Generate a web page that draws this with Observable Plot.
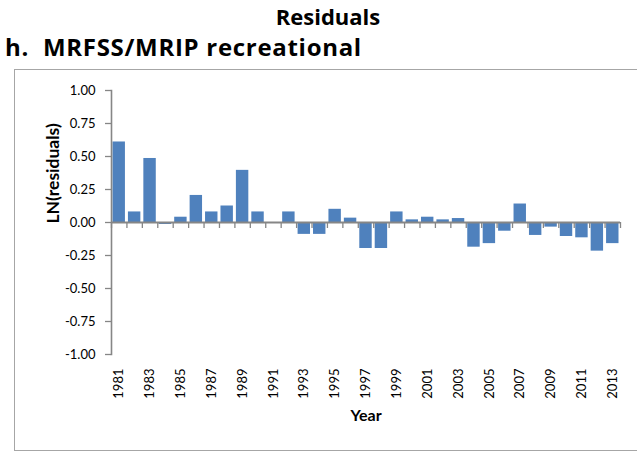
<!DOCTYPE html>
<html>
<head>
<meta charset="utf-8">
<script src="https://cdn.jsdelivr.net/npm/d3@7"></script>
<script src="https://cdn.jsdelivr.net/npm/@observablehq/plot@0.6"></script>
<style>
  html, body { margin: 0; padding: 0; background: #fff; }
  body { width: 637px; height: 452px; position: relative; overflow: hidden; font-family: Lato, "Open Sans", sans-serif; }
  #title { position: absolute; left: 0; top: 4px; width: 637px; padding-left: 19px; box-sizing: border-box; text-align: center; white-space: nowrap; font-family: "Open Sans", sans-serif; font-weight: bold; font-size: 22px; line-height: 24px; color: #000; }
  #subtitle { position: absolute; left: 5px; top: 35px; font-family: "Open Sans", sans-serif; font-weight: bold; font-size: 24px; line-height: 24px; letter-spacing: 0.7px; white-space: pre; color: #000; }
  #box { position: absolute; left: 14px; top: 69px; width: 640px; height: 380px; border: 1px solid #a6a6a6; }
  #box svg { display: block; }
</style>
</head>
<body>
<div id="title">Residuals</div>
<div id="subtitle">h.  MRFSS/MRIP recreational</div>
<div id="box"></div>
<script>
const years = [1981, 1982, 1983, 1984, 1985, 1986, 1987, 1988, 1989, 1990, 1991,
  1992, 1993, 1994, 1995, 1996, 1997, 1998, 1999, 2000, 2001, 2002,
  2003, 2004, 2005, 2006, 2007, 2008, 2009, 2010, 2011, 2012, 2013];
const residuals = [0.61, 0.08, 0.485, -0.015, 0.04, 0.205, 0.08, 0.125, 0.395, 0.08, 0,
  0.08, -0.09, -0.09, 0.10, 0.033, -0.197, -0.197, 0.08, 0.02, 0.04, 0.02,
  0.03, -0.187, -0.16, -0.066, 0.14, -0.098, -0.035, -0.106, -0.116, -0.217, -0.16];
const yTicks = [-1, -0.75, -0.5, -0.25, 0, 0.25, 0.5, 0.75, 1];
const xTickLabels = [1981, 1983, 1985, 1987, 1989, 1991, 1993, 1995, 1997, 1999,
  2001, 2003, 2005, 2007, 2009, 2011, 2013];
const yLabel = "LN(residuals)";
const xLabel = "Year";

const data = years.map((year, i) => ({year, value: residuals[i]}));
const edges = years.concat([years[years.length - 1] + 1]);
const axisColor = "#868686";

const chart = Plot.plot({
  width: 623,
  height: 380,
  marginLeft: 96,
  marginRight: 18,
  marginTop: 20,
  marginBottom: 96,
  style: {fontFamily: "Lato, 'Open Sans', sans-serif", fontSize: "13px", color: "#000", background: "transparent"},
  x: {domain: [years[0] - 0.5, years[years.length - 1] + 0.5], axis: null},
  y: {domain: [-1, 1], axis: null},
  marks: [
    Plot.rect(data, {
      x1: d => d.year - 0.5, x2: d => d.year + 0.5,
      y1: () => 0, y2: "value",
      insetLeft: 1.5, insetRight: 1.5,
      fill: "#4F81BD"
    }),
    Plot.axisY({
      ticks: yTicks, tickFormat: d => d.toFixed(2),
      tickSize: 6, tickPadding: 10, stroke: axisColor, strokeWidth: 1.3,
      fill: "#000", fontSize: 13, label: null
    }),
    Plot.axisX({
      ticks: xTickLabels, tickFormat: d => String(d), tickRotate: -90,
      tickSize: 0, tickPadding: 14, fill: "#000", fontSize: 13, label: null
    }),
    Plot.ruleX(edges, {
      x: d => d - 0.5, y1: () => 0, y2: () => 0, insetBottom: -6,
      stroke: axisColor, strokeWidth: 1.3
    }),
    Plot.ruleY([0], {stroke: axisColor, strokeWidth: 2}),
    Plot.frame({anchor: "left", stroke: axisColor, strokeWidth: 1.6}),
    Plot.text([yLabel], {
      text: d => d, frameAnchor: "left", rotate: -90, dx: -58, dy: 1,
      fontWeight: "bold", fontSize: 17.5, fill: "#000"
    }),
    Plot.text([xLabel], {
      text: d => d, frameAnchor: "bottom", dy: 66,
      fontWeight: "bold", fontSize: 16, fill: "#000"
    })
  ]
});
document.getElementById("box").appendChild(chart);
</script>
</body>
</html>
